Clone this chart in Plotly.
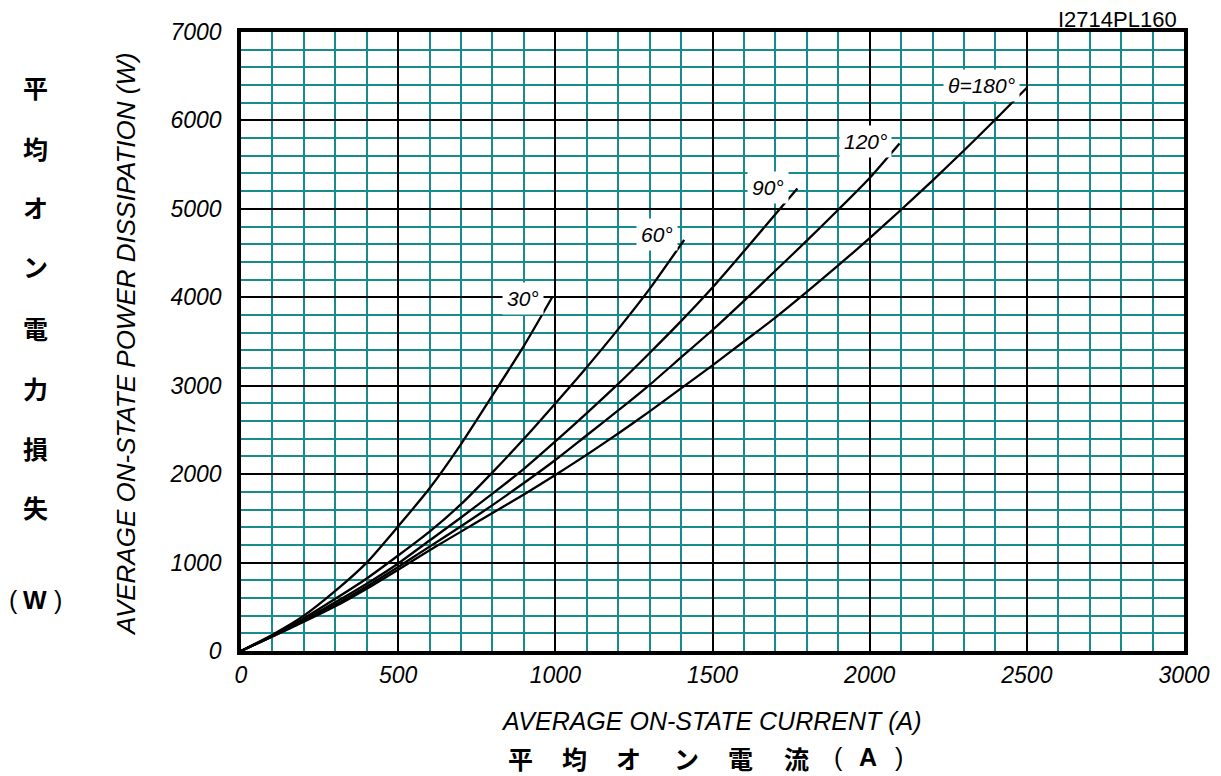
import plotly.graph_objects as go

# ---- data ----
i_30 = [0, 100, 200, 300, 400, 500, 600, 700, 800, 900, 990]
p_30 = [0, 185, 400, 680, 1000, 1410, 1840, 2340, 2890, 3450, 4000]

i_60 = [0, 100, 200, 300, 400, 500, 600, 700, 800, 900, 1000, 1100, 1200, 1300, 1410]
p_60 = [0, 175, 370, 590, 820, 1080, 1350, 1660, 2020, 2400, 2800, 3210, 3640, 4095, 4650]

i_90 = [0, 100, 200, 300, 400, 500, 600, 700, 800, 900, 1000, 1100, 1200, 1300, 1400,
        1500, 1600, 1700, 1770]
p_90 = [0, 170, 350, 550, 760, 990, 1250, 1510, 1780, 2060, 2370, 2690, 3020, 3370, 3730,
        4110, 4520, 4940, 5230]

i_120 = [0, 100, 200, 300, 400, 500, 600, 700, 800, 900, 1000, 1100, 1200, 1300, 1400,
         1500, 1600, 1700, 1800, 1900, 2000, 2095]
p_120 = [0, 165, 340, 525, 730, 950, 1180, 1410, 1650, 1900, 2160, 2440, 2720, 3010, 3320,
         3630, 3960, 4300, 4640, 4990, 5350, 5740]

i_180 = [0, 100, 200, 300, 400, 500, 600, 700, 800, 900, 1000, 1100, 1200, 1300, 1400,
         1500, 1600, 1700, 1800, 1900, 2000, 2100, 2200, 2300, 2400, 2500]
p_180 = [0, 165, 330, 505, 705, 920, 1140, 1350, 1560, 1770, 1990, 2220, 2460, 2710, 2970,
         3230, 3500, 3770, 4060, 4360, 4670, 4990, 5320, 5660, 6010, 6370]

curve_labels = ["30°", "60°", "90°", "120°", "<i>θ</i>=180°"]
x_ticks = [0, 500, 1000, 1500, 2000, 2500, 3000]
y_ticks = [0, 1000, 2000, 3000, 4000, 5000, 6000, 7000]

x_title = "AVERAGE ON-STATE CURRENT (A)"
y_title = "AVERAGE ON-STATE POWER DISSIPATION (W)"
jp_x_chars = ["平", "均", "オ", "ン", "電", "流"]
jp_x_unit = ["(", "A", ")"]
jp_y_chars = ["平", "均", "オ", "ン", "電", "力", "損", "失"]
jp_y_unit = ["(", "W", ")"]
code_text = "I2714PL160"

# ---- styling ----
OFF = 8  # page body margin offset
W, H = 1221 - OFF, 776 - OFF
L, R, T, B = 241 - OFF, 1184 - OFF, 32 - OFF, 651 - OFF
TEAL = "#178c8c"
FONT = "Liberation Sans, Arial, sans-serif"
JPFONT = "Noto Sans CJK JP, sans-serif"


def paper(px, py):
    # px, py are target screenshot pixels
    return (px - OFF - L) / (R - L), (B - (py - OFF)) / (B - T)


fig = go.Figure()
series = [(i_30, p_30), (i_60, p_60), (i_90, p_90), (i_120, p_120), (i_180, p_180)]
for (xs, ys), name in zip(series, curve_labels):
    fig.add_trace(go.Scatter(x=xs, y=ys, mode="lines", name=name,
                             line=dict(color="black", width=2.3, shape="spline", smoothing=0.6),
                             showlegend=False, hoverinfo="x+y"))

annotations = []
shifts = [(-8, -1), (-6, 5), (-8, 1), (-8, 2), (-7, 2)]
for (xs, ys), txt, (dx, dy) in zip(series, curve_labels, shifts):
    annotations.append(dict(x=xs[-1], y=ys[-1], xref="x", yref="y", text=txt,
                            showarrow=False, xanchor="right", yanchor="middle",
                            xshift=dx, yshift=dy, bgcolor="white", borderpad=4,
                            font=dict(family=FONT, size=21, color="black", style="italic")))

ax, ay = paper(711, 721)
annotations.append(dict(x=ax, y=ay, xref="paper", yref="paper", text=x_title, showarrow=False,
                        xanchor="center", yanchor="middle",
                        font=dict(family=FONT, size=25, color="black", style="italic")))
ax, ay = paper(126, 344)
annotations.append(dict(x=ax, y=ay, xref="paper", yref="paper", text=y_title, showarrow=False,
                        textangle=-90, xanchor="center", yanchor="middle",
                        font=dict(family=FONT, size=26, color="black", style="italic")))


def add_char(text, px, py, family, size, bold):
    ax, ay = paper(px, py)
    annotations.append(dict(x=ax, y=ay, xref="paper", yref="paper",
                            text=f"<b>{text}</b>" if bold else text,
                            showarrow=False, xanchor="center", yanchor="middle",
                            font=dict(family=family, size=size, color="black")))


jp_x_pos = [520, 574, 628, 686, 740, 796]
for ch, px in zip(jp_x_chars, jp_x_pos):
    add_char(ch, px, 758, JPFONT, 25, True)
for ch, px, bold in zip(jp_x_unit, [838, 868, 899], [False, True, False]):
    add_char(ch, px, 757, FONT, 25, bold)

jp_y_pos = [87, 148, 207, 266, 328, 388, 448, 507]
for ch, py in zip(jp_y_chars, jp_y_pos):
    add_char(ch, 35, py, JPFONT, 25, True)
for ch, px, bold in zip(jp_y_unit, [13, 35, 58], [False, True, False]):
    add_char(ch, px, 600, FONT, 25, bold)

ax, ay = paper(1117, 20)
annotations.append(dict(x=ax, y=ay, xref="paper", yref="paper", text=code_text,
                        showarrow=False, xanchor="center", yanchor="middle", borderpad=0,
                        font=dict(family=FONT, size=22, color="black")))

tickfont = dict(family=FONT, size=23, color="black", style="italic")

fig.update_layout(
    width=W, height=H, autosize=False,
    margin=dict(l=L, r=W - R, t=T, b=H - B),
    paper_bgcolor="white", plot_bgcolor="white",
    annotations=annotations,
    xaxis=dict(range=[0, 3000], tickvals=x_ticks, ticktext=[str(v) for v in x_ticks],
               showgrid=True, gridcolor="black", gridwidth=2.2,
               minor=dict(dtick=100, tick0=0, showgrid=True, gridcolor=TEAL, gridwidth=1.7),
               showline=True, mirror=True, linecolor="black", linewidth=3.5,
               zeroline=False, ticks="", tickfont=tickfont, ticklabelstandoff=1),
    yaxis=dict(range=[0, 7000], tickvals=y_ticks, ticktext=[str(v) for v in y_ticks],
               showgrid=True, gridcolor="black", gridwidth=2.2,
               minor=dict(dtick=200, tick0=0, showgrid=True, gridcolor=TEAL, gridwidth=1.7),
               showline=True, mirror=True, linecolor="black", linewidth=3.5,
               zeroline=False, ticks="", tickfont=tickfont, ticklabelstandoff=11),
)

fig.write_html("out.html")
